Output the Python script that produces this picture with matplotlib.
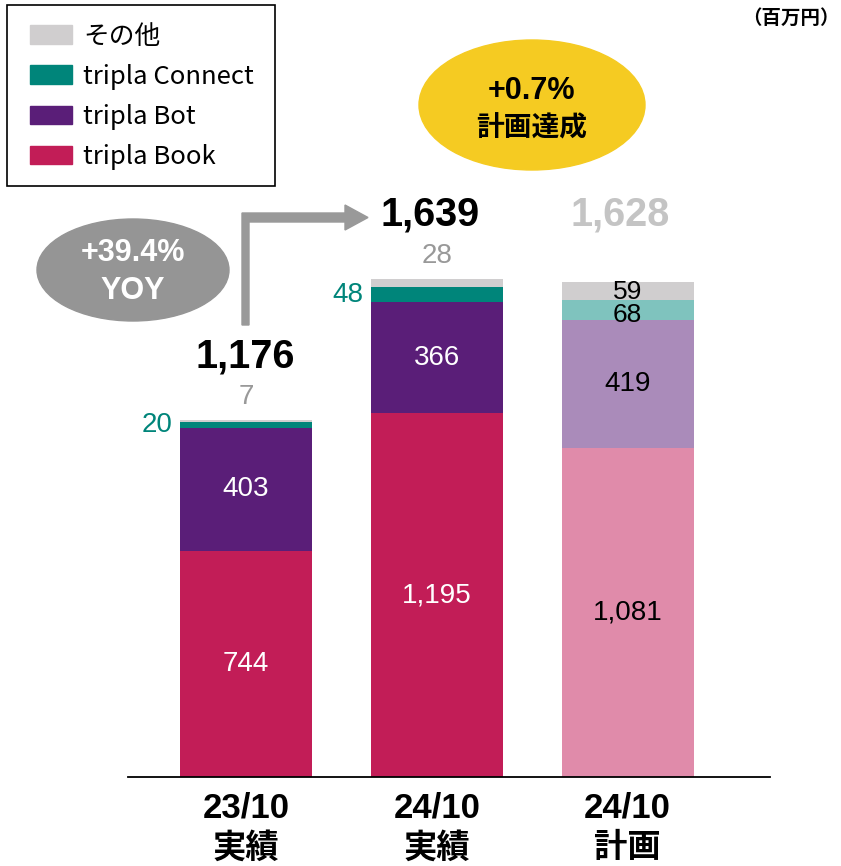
import matplotlib
matplotlib.use("Agg")
import matplotlib.pyplot as plt
from matplotlib.patches import Ellipse, Polygon, Patch, Rectangle
import numpy as np

categories = ["23/10\n実績", "24/10\n実績", "24/10\n計画"]
book = [744, 1195, 1081]
bot = [403, 366, 419]
connect = [20, 48, 68]
other = [7, 28, 59]
totals = ["1,176", "1,639", "1,628"]
series_names = ["その他", "tripla Connect", "tripla Bot", "tripla Book"]

c_book = ["#C21D57", "#C21D57", "#E08BAA"]
c_bot = ["#5A1E78", "#5A1E78", "#AA8BBA"]
c_con = ["#00857A", "#00857A", "#7FC3BE"]
c_oth = ["#D0CECF", "#D0CECF", "#D0CECF"]

W, H = 841, 866
fig = plt.figure(figsize=(W / 100, H / 100), dpi=100)
base_y = 777
scale = 0.3044  # px per unit
ax = fig.add_axes([128 / W, (H - base_y) / H, (770 - 128) / W, base_y / H])
ax.set_xlim(-0.619, 2.747)
ax.set_ylim(0, base_y / scale)
for s in ["top", "right", "left"]:
    ax.spines[s].set_visible(False)
ax.spines["bottom"].set_color("black")
ax.spines["bottom"].set_linewidth(1.3)
ax.set_yticks([])
ax.set_xticks([])
ax.patch.set_alpha(0)

x = np.arange(3)
bw = 0.692
b1 = ax.bar(x, book, bw, color=c_book, zorder=2)
b2 = ax.bar(x, bot, bw, bottom=book, color=c_bot, zorder=2)
bottom2 = np.array(book) + np.array(bot)
b3 = ax.bar(x, connect, bw, bottom=bottom2, color=c_con, zorder=2)
bottom3 = bottom2 + np.array(connect)
b4 = ax.bar(x, other, bw, bottom=bottom3, color=c_oth, zorder=2)
tops = bottom3 + np.array(other)

num_font = "Liberation Sans"
cjk = ["Noto Sans CJK JP", "DejaVu Sans"]

# segment labels (large ones centered)
for i in range(3):
    col = "white" if i < 2 else "black"
    ax.text(x[i], book[i] / 2, f"{book[i]:,}", ha="center", va="center", color=col,
            fontsize=20, family=num_font)
    ax.text(x[i], book[i] + bot[i] / 2, f"{bot[i]:,}", ha="center", va="center", color=col,
            fontsize=20, family=num_font)

# small segment labels
for i in range(2):
    ax.text(x[i] - bw / 2 - 0.04, bottom2[i] + connect[i] / 2, f"{connect[i]}", ha="right",
            va="center", color="#00857A", fontsize=20, family=num_font)
    ax.text(x[i], tops[i] + 8 / scale + 5, f"{other[i]}", ha="center", va="bottom",
            color="#999999", fontsize=20, family=num_font)
ax.text(x[2], bottom3[2] + other[2] / 2 - 5, f"{other[2]}", ha="center", va="center",
        color="black", fontsize=19, family=num_font)
ax.text(x[2], bottom2[2] + connect[2] / 2 - 15, f"{connect[2]}", ha="center", va="center",
        color="black", fontsize=19, family=num_font)

# totals
tot_y = [357, 215, 215]
tot_x = [245, 430, 620]
tot_c = ["black", "black", "#C4C4C4"]

# category labels
for i in range(3):
    top, bottom = categories[i].split("\n")
    ax.text(x[i], -(808 - base_y) / scale, top, ha="center", va="center", fontsize=25,
            fontweight="bold", family=["Liberation Sans Narrow", "Liberation Sans"], clip_on=False)
    ax.text(x[i], -(848 - base_y) / scale, bottom, ha="center", va="center", fontsize=24,
            fontweight="bold", family=cjk, clip_on=False)

# overlay in pixel coords
ov = fig.add_axes([0, 0, 1, 1], zorder=5)
ov.set_xlim(0, W)
ov.set_ylim(H, 0)
ov.axis("off")
ov.patch.set_alpha(0)

for i in range(3):
    ov.text(tot_x[i], tot_y[i], totals[i], ha="center", va="center", fontsize=28.5,
            fontweight="bold", color=tot_c[i], family=num_font)

# gray ellipse
ov.add_patch(Ellipse((133, 270), 192, 102, color="#959595", zorder=1))
ov.text(133, 253, "+39.4%", ha="center", va="center", color="white", fontsize=22,
        fontweight="bold", family=num_font, zorder=2)
ov.text(133, 291, "YOY", ha="center", va="center", color="white", fontsize=22,
        fontweight="bold", family=num_font, zorder=2)

# yellow ellipse
ov.add_patch(Ellipse((532, 105), 226, 130, color="#F5CB22", zorder=1))
ov.text(532, 91, "+0.7%", ha="center", va="center", color="black", fontsize=22,
        fontweight="bold", family=num_font, zorder=2)
ov.text(532, 128, "計画達成", ha="center", va="center", color="black", fontsize=20,
        fontweight="bold", family=cjk, zorder=2)

# elbow arrow
arrow = [(242, 325), (242, 213), (345, 213), (345, 205), (368, 217.5), (345, 230),
         (345, 222), (249, 222), (249, 325)]
ov.add_patch(Polygon(arrow, closed=True, color="#999999", zorder=1))

ov.text(840, 18, "（百万円）", ha="right", va="center", fontsize=14, fontweight="bold",
        family=cjk)

# legend frame
ov.add_patch(Rectangle((7, 5), 268, 181, fill=False, edgecolor="black", linewidth=1.2, zorder=3))

# legend
handles = [Patch(color=c_oth[0]), Patch(color=c_con[0]), Patch(color=c_bot[0]), Patch(color=c_book[0])]
leg = fig.legend(handles, series_names, loc="upper left", bbox_to_anchor=(7 / W, 1 - 0.5 / H),
                 prop={"family": cjk, "size": 18.5}, frameon=False,
                 handlelength=1.64, handleheight=0.74, handletextpad=0.43,
                 labelspacing=0.55, borderpad=0.9, borderaxespad=0)

fig.savefig("out.png", dpi=100)
